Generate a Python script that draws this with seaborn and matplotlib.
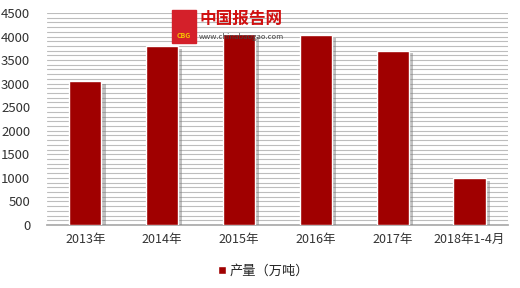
import matplotlib
matplotlib.use("Agg")
import matplotlib.pyplot as plt
import matplotlib.patheffects as pe
import seaborn as sns
import pandas as pd
import numpy as np

categories = ["2013年", "2014年", "2015年", "2016年", "2017年", "2018年1-4月"]
values = [3050, 3800, 4050, 4030, 3700, 990]
series_name = "产量（万吨）"
yticks = [0, 500, 1000, 1500, 2000, 2500, 3000, 3500, 4000, 4500]

sns.set_theme(style="white")
plt.rcParams['font.family'] = ['Noto Sans CJK SC', 'DejaVu Sans']

df = pd.DataFrame({"cat": categories, "val": values, "s": series_name})

fig = plt.figure(figsize=(5.2, 2.88), dpi=100)
ax = fig.add_axes([0.09, 0.219, 0.887, 0.736])

sns.barplot(data=df, x="cat", y="val", hue="s", palette=["#A00000"], saturation=1,
            width=0.42, ax=ax, legend=True, zorder=3)

for p in ax.patches:
    p.set_path_effects([pe.SimplePatchShadow(offset=(3, -2), shadow_rgbFace="#777777", alpha=0.45), pe.Normal()])

ax.set_ylim(0, 4500)
ax.set_yticks(yticks)
ax.set_yticks(np.arange(0, 4501, 100), minor=True)
ax.grid(axis="y", which="both", color="#bdbdbd", linewidth=0.8, zorder=0)
ax.set_axisbelow(True)
ax.set_xlim(-0.5, 5.5)
ax.set_xlabel("")
ax.set_ylabel("")
for s in ["top", "right", "left"]:
    ax.spines[s].set_visible(False)
ax.spines["bottom"].set_color("#aaaaaa")
ax.tick_params(axis="both", which="both", length=0, colors="#333333")
ax.tick_params(axis="y", labelsize=9.5, pad=12)
ax.tick_params(axis="x", labelsize=9, pad=6)

leg = ax.legend(loc="upper center", bbox_to_anchor=(0.47, -0.13), frameon=False,
                fontsize=9.5, handlelength=0.6, handleheight=0.6, handletextpad=0.3)
for h in leg.legend_handles:
    h.set_path_effects([])

# watermark
fig.text(0.383, 0.935, "中国报告网", color="#d01010", fontsize=12, fontweight="bold", va="center")
fig.text(0.383, 0.872, "www.chinabaogao.com", color="#444444", fontsize=5.5, va="center")
fig.patches.append(matplotlib.patches.Rectangle((0.33, 0.85), 0.046, 0.115, transform=fig.transFigure,
                                                 facecolor="#d4202a", edgecolor="#d4202a", zorder=5))
fig.text(0.353, 0.875, "CBG", color="#f5c400", fontsize=5, ha="center", va="center", zorder=6, fontweight="bold")

fig.savefig("out.png", dpi=100)
